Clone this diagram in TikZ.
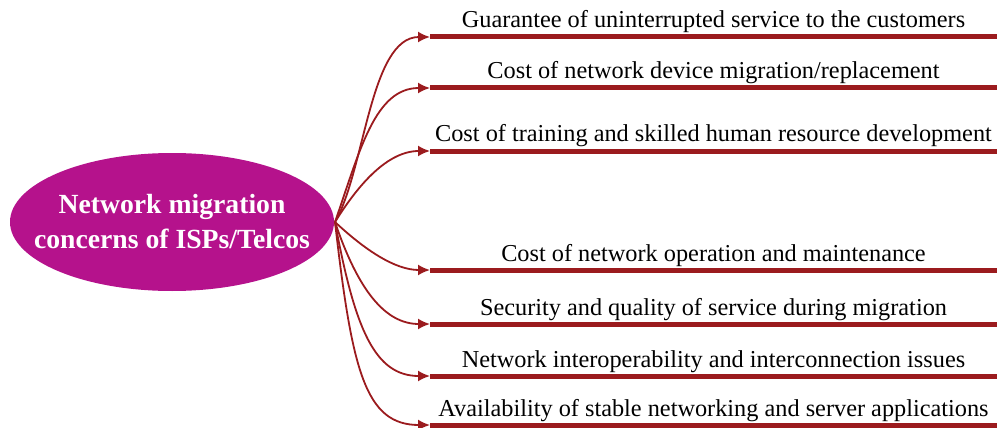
\documentclass[tikz,border=0pt]{standalone}
\usepackage{fontspec}
\setmainfont{Liberation Serif}
\usetikzlibrary{arrows.meta,shapes.geometric}
\definecolor{dred}{HTML}{9B1B1E}
\definecolor{mag}{HTML}{B5128C}
\tikzset{
  bar/.style={draw=dred, line width=5pt},
  conn/.style={draw=dred, line width=1.8pt, -{Latex[length=12pt,width=11pt]}},
  item/.style={anchor=base, font=\fontsize{24.3}{28}\selectfont, inner sep=0pt},
}
\begin{document}
\begin{tikzpicture}[x=1pt,y=-1pt]
\useasboundingbox (0,0) rectangle (997,428);
\node[ellipse, fill=mag, minimum width=324pt, minimum height=138pt, inner sep=0pt] (c) at (172,222) {};
\node[text=white, font=\bfseries\fontsize{27.7}{35}\selectfont, align=center] (ct) at (c) {Network migration\\concerns of ISPs/Telcos};
\coordinate (o) at (335,222);
\foreach \i/\y/\t in {1/37/{Guarantee of uninterrupted service to the customers},
  2/88/{Cost of network device migration/replacement},
  3/151/{Cost of training and skilled human resource development},
  4/270/{Cost of network operation and maintenance},
  5/324/{Security and quality of service during migration},
  6/376/{Network interoperability and interconnection issues},
  7/425/{Availability of stable networking and server applications}}{
  \coordinate (s\i) at (430,\y);
  \coordinate (e\i) at (997,\y);
  \draw[bar] (s\i) -- (e\i);
  \node[item] (t\i) at (713.5,\y-9) {\t};
}
\draw[conn] (o) .. controls (365,170) and (370,37) .. (s1);
\draw[conn] (o) .. controls (360,150) and (375,88) .. (s2);
\draw[conn] (o) .. controls (355,190) and (385,151) .. (s3);
\draw[conn] (o) .. controls (365,250) and (395,270) .. (s4);
\draw[conn] (o) .. controls (358,290) and (385,324) .. (s5);
\draw[conn] (o) .. controls (355,330) and (375,376) .. (s6);
\draw[conn] (o) .. controls (352,370) and (365,425) .. (s7);
\end{tikzpicture}
\end{document}
